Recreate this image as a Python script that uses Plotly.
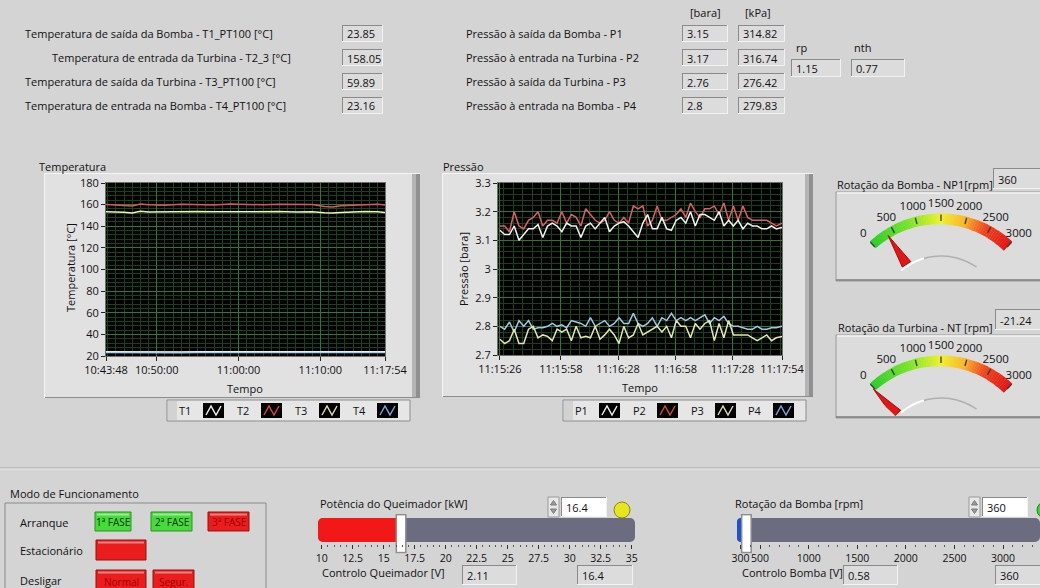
import datetime as dt
import plotly.graph_objects as go

W, H = 1040, 588
FONT = 'Open Sans'
BG = '#d4d4d4'

# ---------------- data ----------------
temp_labels = ['Temperatura de saída da Bomba - T1_PT100 [°C]',
               'Temperatura de entrada da Turbina - T2_3 [°C]',
               'Temperatura de saída da Turbina - T3_PT100 [°C]',
               'Temperatura de entrada na Bomba - T4_PT100 [°C]']
temp_values = ['23.85', '158.05', '59.89', '23.16']
press_labels = ['Pressão à saída da Bomba - P1',
                'Pressão à entrada na Turbina - P2',
                'Pressão à saída da Turbina - P3',
                'Pressão à entrada na Bomba - P4']
press_bara = ['3.15', '3.17', '2.76', '2.8']
press_kpa = ['314.82', '316.74', '276.42', '279.83']
rp_value = '1.15'
nth_value = '0.77'

DAY = '2014-06-10 '
temp_times = ['10:43:48', '10:45:00', '10:46:00', '10:47:00', '10:48:00', '10:49:00', '10:51:00',
              '10:53:00', '10:55:00', '10:57:00', '10:59:00', '11:01:00', '11:03:00', '11:05:00',
              '11:07:00', '11:09:00', '11:10:30', '11:11:30', '11:12:30', '11:14:00', '11:15:30',
              '11:17:00', '11:17:54']
T1 = [23.9, 23.8, 23.9, 23.9, 23.8, 23.9, 23.9, 23.8, 23.9, 23.9, 23.8, 23.9,
      23.9, 23.8, 23.9, 23.9, 23.8, 23.9, 23.9, 23.8, 23.9, 23.9, 23.85]
T2 = [160.2, 160.0, 159.2, 158.8, 160.5, 159.8, 159.5, 160.4, 160.0, 159.6, 160.6, 160.2,
      159.8, 160.3, 159.9, 160.1, 158.2, 157.8, 159.0, 159.6, 160.2, 160.4, 159.6]
T3 = [153.5, 153.6, 153.0, 152.3, 153.8, 153.2, 153.4, 153.5, 153.6, 153.3, 153.4, 153.7,
      153.5, 153.6, 153.2, 153.5, 152.6, 152.2, 152.8, 153.4, 153.6, 153.5, 152.8]
T4 = [23.2, 23.1, 23.2, 23.2, 23.1, 23.2, 23.2, 23.1, 23.2, 23.2, 23.1, 23.2,
      23.2, 23.1, 23.2, 23.2, 23.1, 23.2, 23.2, 23.1, 23.2, 23.2, 23.16]
temp_xticks = ['10:43:48', '10:50:00', '11:00:00', '11:10:00', '11:17:54']
temp_yticks = [20, 40, 60, 80, 100, 120, 140, 160, 180]

p_start = '11:15:26'
p_secs = [0, 2.5, 5, 7.5, 10, 12.5, 15, 17.5, 20, 22.5, 25, 27.5, 30, 32.5, 35, 37.5, 40, 42.5,
          45, 47.5, 50, 52.5, 55, 57.5, 60, 62.5, 65, 67.5, 70, 72.5, 75, 77.5, 80, 82.5, 85,
          87.5, 90, 92.5, 95, 97.5, 100, 102.5, 105, 107.5, 110, 112.5, 115, 117.5, 120, 122.5,
          125, 127.5, 130, 132.5, 135, 137.5, 140, 142.5, 145, 148]
P1 = [3.135, 3.12, 3.12, 3.15, 3.10, 3.12, 3.14, 3.14, 3.155, 3.11,
      3.15, 3.16, 3.15, 3.13, 3.16, 3.15, 3.15, 3.11, 3.15, 3.16,
      3.14, 3.16, 3.18, 3.13, 3.15, 3.16, 3.165, 3.15, 3.13, 3.11,
      3.16, 3.19, 3.14, 3.14, 3.18, 3.14, 3.135, 3.17, 3.18, 3.16,
      3.20, 3.15, 3.19, 3.19, 3.18, 3.17, 3.20, 3.15, 3.17, 3.15,
      3.17, 3.14, 3.16, 3.15, 3.15, 3.14, 3.14, 3.15, 3.14, 3.145]
P2 = [3.15, 3.15, 3.13, 3.20, 3.15, 3.14, 3.17, 3.18, 3.20, 3.15,
      3.17, 3.17, 3.16, 3.20, 3.16, 3.19, 3.18, 3.15, 3.21, 3.19,
      3.17, 3.16, 3.17, 3.20, 3.17, 3.16, 3.18, 3.16, 3.22, 3.21,
      3.22, 3.15, 3.17, 3.22, 3.17, 3.17, 3.18, 3.19, 3.21, 3.18,
      3.23, 3.20, 3.18, 3.21, 3.21, 3.22, 3.19, 3.23, 3.17, 3.22,
      3.17, 3.22, 3.18, 3.17, 3.17, 3.17, 3.17, 3.16, 3.15, 3.16]
P3 = [2.755, 2.74, 2.75, 2.79, 2.74, 2.74, 2.79, 2.80, 2.76, 2.77,
      2.765, 2.75, 2.79, 2.78, 2.79, 2.75, 2.80, 2.76, 2.765, 2.76,
      2.80, 2.755, 2.77, 2.79, 2.77, 2.74, 2.80, 2.76, 2.77, 2.81,
      2.77, 2.78, 2.79, 2.80, 2.78, 2.80, 2.76, 2.82, 2.80, 2.80,
      2.76, 2.81, 2.79, 2.81, 2.82, 2.75, 2.81, 2.76, 2.82, 2.77,
      2.77, 2.77, 2.77, 2.76, 2.75, 2.76, 2.77, 2.75, 2.76, 2.765]
P4 = [2.80, 2.79, 2.815, 2.78, 2.82, 2.80, 2.82, 2.79, 2.795, 2.795,
      2.80, 2.81, 2.80, 2.805, 2.795, 2.82, 2.815, 2.81, 2.80, 2.83,
      2.80, 2.81, 2.82, 2.80, 2.81, 2.83, 2.81, 2.81, 2.845, 2.81,
      2.80, 2.81, 2.83, 2.80, 2.83, 2.82, 2.845, 2.82, 2.83, 2.82,
      2.83, 2.82, 2.83, 2.84, 2.81, 2.83, 2.82, 2.835, 2.81, 2.80,
      2.80, 2.795, 2.79, 2.79, 2.80, 2.79, 2.79, 2.795, 2.795, 2.80]
press_xticks = ['11:15:26', '11:15:58', '11:16:28', '11:16:58', '11:17:28', '11:17:54']
press_yticks = [2.7, 2.8, 2.9, 3.0, 3.1, 3.2, 3.3]
press_yticktext = ['2.7', '2.8', '2.9', '3', '3.1', '3.2', '3.3']

gauge_ticks = [0, 500, 1000, 1500, 2000, 2500, 3000]
gauge_max = 3000
np1 = 360
np1_text = '360'
nt = -21.24
nt_text = '-21.24'

burner_kw = 16.4
burner_ticks = [10, 12.5, 15, 17.5, 20, 22.5, 25, 27.5, 30, 32.5, 35]
burner_ticktext = ['10', '12.5', '15', '17.5', '20', '22.5', '25', '27.5', '30', '32.5', '35']
burner_v = '2.11'
burner_text = '16.4'
pump_rpm = 360
pump_ticks = [300, 500, 1000, 1500, 2000, 2500, 3000]
pump_v = '0.58'
pump_text = '360'

# ---------------- helpers ----------------
def X(p):
    return p / W


def Y(p):
    return 1 - p / H


shapes = []
annotations = []


def rect(x0, y0, x1, y1, fill, line=None, lw=1, layer='below', kind='rect'):
    shapes.append(dict(type=kind, xref='paper', yref='paper', x0=X(x0), x1=X(x1), y0=Y(y1), y1=Y(y0),
                       fillcolor=fill, line=dict(color=line if line else fill, width=lw if line else 0),
                       layer=layer))


def seg(x0, y0, x1, y1, color, w=1):
    shapes.append(dict(type='line', xref='paper', yref='paper', x0=X(x0), x1=X(x1), y0=Y(y0), y1=Y(y1),
                       line=dict(color=color, width=w), layer='below'))


def path(pts, color, w=1.2, fill=None):
    d = 'M ' + ' L '.join('%.5f,%.5f' % (X(a), Y(b)) for a, b in pts)
    if fill:
        d += ' Z'
    shapes.append(dict(type='path', xref='paper', yref='paper', path=d,
                       line=dict(color=color, width=w), fillcolor=fill or 'rgba(0,0,0,0)', layer='below'))


def text(x, y, s, size=11, color='#111111', anchor='left', angle=0):
    annotations.append(dict(xref='paper', yref='paper', x=X(x), y=Y(y), text=s, showarrow=False,
                            xanchor=anchor, yanchor='middle', textangle=angle,
                            font=dict(family=FONT, size=size, color=color)))


def box(x0, y0, x1, y1, s, bg='#dcdcdc'):
    rect(x0, y0, x1, y1, bg)
    seg(x0, y0 + 0.5, x1, y0 + 0.5, '#8a8a8a')
    seg(x0 + 0.5, y0, x0 + 0.5, y1, '#8a8a8a')
    seg(x0, y1 - 0.5, x1, y1 - 0.5, '#f2f2f2')
    seg(x1 - 0.5, y0, x1 - 0.5, y1, '#f2f2f2')
    text(x0 + 3, (y0 + y1) / 2 + 0.5, s)


def frame(x0, y0, x1, y1):
    rect(x0, y0, x1, y1, '#e1e1e1')
    rect(x1 - 8, y0, x1, y1, '#b4b4b4')
    rect(x1 - 4, y0, x1, y1, '#909090')
    seg(x0, y1 - 0.5, x1, y1 - 0.5, '#8c8c8c')
    seg(x0 + 0.5, y0, x0 + 0.5, y1, '#f5f5f5')
    seg(x0, y0 + 0.5, x1, y0 + 0.5, '#f5f5f5')


def legend(x0, x1, y0, y1, names, colors):
    rect(x0, y0, x1, y1, '#e6e6e6', '#8c8c8c')
    rect(x0 + 1, y0 + 1, x0 + 10, y1 - 1, '#d2d2d2')
    for i, (n, c) in enumerate(zip(names, colors)):
        lx = x0 + 18 + 58 * i
        text(lx, (y0 + y1) / 2, n, anchor='center')
        ix = lx + 18
        rect(ix, y0 + 3, ix + 21, y1 - 3, '#000000')
        a, b = y0 + 6, y1 - 6
        path([(ix + 3, b), (ix + 8, a), (ix + 13, b), (ix + 18, a)], c, 1.4)


def button(x0, y0, x1, y1, s, fill, edge, tcol):
    rect(x0, y0, x1, y1, fill, edge)
    seg(x0 + 2, y0 + 2.5, x1 - 2, y0 + 2.5, 'rgba(255,255,255,0.45)', 2)
    if s:
        text((x0 + x1) / 2, (y0 + y1) / 2 + 0.5, s, size=10, color=tcol, anchor='center')


# ---------------- background decoration ----------------
rows_y = [(25, 42), (49, 66), (73, 90), (97, 114)]
label_x = [23, 50, 23, 23]
for (a, b), lab, lx, v in zip(rows_y, temp_labels, label_x, temp_values):
    text(lx, (a + b) / 2, lab)
    box(342, a, 383, b, v)

text(705, 13, '[bara]', anchor='center')
text(758, 13, '[kPa]', anchor='center')
for (a, b), lab, vb, vk in zip(rows_y, press_labels, press_bara, press_kpa):
    text(464, (a + b) / 2, lab)
    box(682, a, 728, b, vb)
    box(738, a, 785, b, vk)
text(794, 48, 'rp')
text(852, 48, 'nth')
box(791, 59, 841, 77, rp_value)
box(851, 59, 905, 77, nth_value)

text(37, 166, 'Temperatura')
frame(44, 173, 420, 398)
rect(106, 183, 385, 356, '#000000')
text(70, 268, 'Temperatura [°C]', angle=-90, anchor='center')
text(245, 388, 'Tempo', anchor='center')
legend(167, 410, 400, 421, ['T1', 'T2', 'T3', 'T4'], ['#f2f2f2', '#d84848', '#e0e0a8', '#7fa8d8'])

text(441, 166, 'Pressão')
frame(442, 173, 813, 397)
rect(498, 183, 782, 355, '#000000')
text(463, 269, 'Pressão [bara]', angle=-90, anchor='center')
text(640, 387, 'Tempo', anchor='center')
legend(563, 806, 400, 421, ['P1', 'P2', 'P3', 'P4'], ['#f2f2f2', '#d84848', '#e0e0a8', '#7fa8d8'])

text(835, 185, 'Rotação da Bomba - NP1[rpm]')
box(993, 168, 1042, 189, np1_text)
rect(836, 192, 1045, 281, '#dcdcdc', '#9a9a9a')
seg(837, 193, 1045, 193, '#f4f4f4', 1.5)
seg(836, 280, 1045, 280, '#7c7c7c', 1.5)
text(836, 327, 'Rotação da Turbina - NT [rpm]')
box(995, 309, 1042, 330, nt_text)
rect(836, 335, 1045, 418, '#dcdcdc', '#9a9a9a')
seg(837, 336, 1045, 336, '#f4f4f4', 1.5)
seg(836, 417, 1045, 417, '#7c7c7c', 1.5)

seg(0, 468, 1040, 468, '#a4a4a4')
seg(0, 469, 1040, 469, '#ececec')

text(8, 493, 'Modo de Funcionamento')
rect(5, 503, 266, 595, BG, '#8a8a8a')
text(18, 522, 'Arranque')
text(18, 550, 'Estacionário')
text(18, 580, 'Desligar')
button(95, 512, 131, 531, '1ª FASE', '#45dc3a', '#2f8f2a', '#103010')
button(151, 512, 192, 531, '2ª FASE', '#45dc3a', '#2f8f2a', '#103010')
button(208, 512, 249, 531, '3ª FASE', '#ea1c1c', '#9a1010', '#a00000')
button(96, 540, 146, 560, '', '#ea1c1c', '#9a1010', '#a00000')
button(96, 570, 146, 592, 'Normal', '#ea1c1c', '#9a1010', '#a00000')
button(153, 570, 194, 592, 'Segur.', '#ea1c1c', '#9a1010', '#a00000')

text(318, 503, 'Potência do Queimador [kW]')
rect(548, 497, 559, 517, '#e8e8e8', '#9a9a9a')
path([(550.5, 505), (553.5, 500.5), (556.5, 505)], '#7a7a7a', 1, fill='#9a9a9a')
path([(550.5, 509), (553.5, 513.5), (556.5, 509)], '#7a7a7a', 1, fill='#9a9a9a')
box(561, 497, 607, 517, burner_text, bg='#ffffff')
rect(614, 502, 630, 518, '#e6e61e', '#8a8a10', kind='circle')
text(320, 572, 'Controlo Queimador [V]')
box(462, 565, 517, 585, burner_v)
box(577, 565, 633, 585, burner_text)

text(733, 503, 'Rotação da Bomba [rpm]')
rect(969, 497, 980, 517, '#e8e8e8', '#9a9a9a')
path([(971.5, 505), (974.5, 500.5), (977.5, 505)], '#7a7a7a', 1, fill='#9a9a9a')
path([(971.5, 509), (974.5, 513.5), (977.5, 509)], '#7a7a7a', 1, fill='#9a9a9a')
box(982, 497, 1028, 517, pump_text, bg='#ffffff')
rect(1037, 502, 1053, 518, '#3cd23c', '#208020', kind='circle')
text(740, 572, 'Controlo Bomba [V]')
box(843, 565, 898, 585, pump_v)
box(995, 565, 1045, 585, pump_text)

# ---------------- traces ----------------
traces = []
t_x = [DAY + t for t in temp_times]
for ys, col in [(T1, '#f4f4f4'), (T2, '#e05555'), (T3, '#f2f2b4'), (T4, '#a9d2f2')]:
    traces.append(go.Scatter(x=t_x, y=ys, mode='lines', line=dict(color=col, width=1.5),
                             xaxis='x', yaxis='y', hoverinfo='skip'))

p0 = dt.datetime.strptime(DAY + p_start, '%Y-%m-%d %H:%M:%S')
p_x = [p0 + dt.timedelta(seconds=s) for s in p_secs]
for ys, col in [(P4, '#9ccaec'), (P3, '#e8e8a4'), (P2, '#e35d5d'), (P1, '#f2f2f2')]:
    traces.append(go.Scatter(x=p_x, y=ys, mode='lines', line=dict(color=col, width=1.5),
                             xaxis='x2', yaxis='y2', hoverinfo='skip'))

DEG_PER_UNIT = 86.0 / gauge_max


def th(v):
    return v * DEG_PER_UNIT


GRAD = [(0.0, (40, 205, 40)), (0.28, (120, 228, 40)), (0.5, (240, 242, 40)),
        (0.66, (250, 180, 40)), (0.8, (240, 70, 30)), (1.0, (225, 20, 20))]


def grad(f):
    for (f0, c0), (f1, c1) in zip(GRAD, GRAD[1:]):
        if f <= f1:
            t = (f - f0) / (f1 - f0)
            return 'rgb(%d,%d,%d)' % tuple(round(a + (b - a) * t) for a, b in zip(c0, c1))
    return 'rgb(%d,%d,%d)' % GRAD[-1][1]


def gauge(value, sp):
    n = 60
    step = gauge_max / n
    thetas = [th((i + 0.5) * step) for i in range(n)]
    bases = [95.5 - 3.5 * (i + 0.5) / n for i in range(n)]
    traces.append(go.Barpolar(theta=thetas, base=bases, r=[104.5 - b for b in bases],
                              width=[th(step) * 1.08] * n,
                              marker=dict(color=[grad((i + 0.5) / n) for i in range(n)], line=dict(width=0)),
                              subplot=sp, hoverinfo='skip'))
    tr, tt = [], []
    for v in gauge_ticks:
        tr += [97, 103.5, None]
        tt += [th(v), th(v), None]
    traces.append(go.Scatterpolar(r=tr, theta=tt, mode='lines', line=dict(color='#3a3a3a', width=1.3),
                                  subplot=sp, hoverinfo='skip'))
    traces.append(go.Scatterpolar(r=[114] * len(gauge_ticks), theta=[th(v) for v in gauge_ticks],
                                  text=[str(v) for v in gauge_ticks], mode='text',
                                  textfont=dict(family=FONT, size=11.5, color='#111111'),
                                  subplot=sp, hoverinfo='skip'))
    hub = [3 + 3 * k for k in range(26)]
    traces.append(go.Scatterpolar(r=[62] * 9, theta=hub[:9], mode='lines',
                                  line=dict(color='#ffffff', width=2), subplot=sp, hoverinfo='skip'))
    traces.append(go.Scatterpolar(r=[62] * 18, theta=hub[8:], mode='lines',
                                  line=dict(color='#b0b0b0', width=1.5), subplot=sp, hoverinfo='skip'))
    t = th(value)
    traces.append(go.Scatterpolar(r=[64, 98, 64, 64], theta=[t - 4.5, t, t + 4.5, t - 4.5],
                                  mode='lines', fill='toself', fillcolor='#e21616',
                                  line=dict(color='#a80c0c', width=1), subplot=sp, hoverinfo='skip'))


gauge(np1, 'polar')
gauge(nt, 'polar2')

q_rng = [9.70, 35.27]
p_rng = [263, 3380]
traces.append(go.Bar(y=[0], base=[q_rng[0]], x=[q_rng[1] - q_rng[0]], orientation='h', width=[1.0],
                     marker=dict(color='#6c6c80', cornerradius=5, line=dict(width=0)),
                     xaxis='x3', yaxis='y3', hoverinfo='skip'))
traces.append(go.Bar(y=[0], base=[q_rng[0]], x=[burner_kw - q_rng[0]], orientation='h', width=[1.0],
                     marker=dict(color='#f21818', cornerradius=5, line=dict(width=0)),
                     xaxis='x3', yaxis='y3', hoverinfo='skip'))
traces.append(go.Bar(y=[0], base=[p_rng[0]], x=[p_rng[1] - p_rng[0]], orientation='h', width=[1.0],
                     marker=dict(color='#6c6c80', cornerradius=5, line=dict(width=0)),
                     xaxis='x4', yaxis='y4', hoverinfo='skip'))
traces.append(go.Bar(y=[0], base=[p_rng[0]], x=[pump_rpm - p_rng[0]], orientation='h', width=[1.0],
                     marker=dict(color='#1f4fd6', cornerradius=5, line=dict(width=0)),
                     xaxis='x4', yaxis='y4', hoverinfo='skip'))
for xv, xa, ya in [(burner_kw, 'x3', 'y3'), (pump_rpm, 'x4', 'y4')]:
    traces.append(go.Scatter(x=[xv], y=[-0.15], mode='markers', xaxis=xa, yaxis=ya, cliponaxis=False,
                             marker=dict(symbol='line-ns', size=28, line=dict(width=11, color='#8e8e8e')),
                             hoverinfo='skip'))
    traces.append(go.Scatter(x=[xv], y=[-0.15], mode='markers', xaxis=xa, yaxis=ya, cliponaxis=False,
                             marker=dict(symbol='line-ns', size=26, line=dict(width=8, color='#ffffff')),
                             hoverinfo='skip'))

# ---------------- layout ----------------
G_MAJ = '#2c7a2c'
G_MIN = '#174417'
TF = dict(family=FONT, size=11, color='#111111')
SF = dict(family=FONT, size=10.5, color='#111111')

# gauge sector slightly wider than the 86-degree scale so end labels/needles are not clipped
SECTOR = [44, 136]
HALF_W = 120 * 0.7193  # 120 px radius * cos(44 deg)

fig = go.Figure(data=traces)
fig.update_layout(
    width=W, height=H, margin=dict(l=0, r=0, t=0, b=0, pad=0, autoexpand=False),
    paper_bgcolor=BG, plot_bgcolor='rgba(0,0,0,0)', showlegend=False, barmode='overlay',
    font=dict(family=FONT, size=11, color='#111111'),
    shapes=shapes, annotations=annotations,
    xaxis=dict(domain=[X(106), X(385)], anchor='y', type='date', automargin=False,
               range=[DAY + '10:43:48', DAY + '11:17:54'],
               tickvals=[DAY + t for t in temp_xticks], tickformat='%H:%M:%S', tickfont=TF, tickangle=0,
               ticks='outside', ticklen=4, tickcolor='#222222',
               showgrid=True, gridcolor=G_MAJ, gridwidth=1, zeroline=False,
               showline=True, linecolor='#6e6e6e', mirror=True,
               minor=dict(dtick=60000, tick0=DAY + '10:44:00', showgrid=True, gridcolor=G_MIN, ticks='')),
    yaxis=dict(domain=[Y(356), Y(183)], anchor='x', range=[20, 180], tickvals=temp_yticks, tickfont=TF,
               automargin=False, ticks='outside', ticklen=4, tickcolor='#222222',
               showgrid=True, gridcolor=G_MAJ, zeroline=False,
               showline=True, linecolor='#6e6e6e', mirror=True,
               minor=dict(dtick=4, tick0=20, showgrid=True, gridcolor=G_MIN, ticks='')),
    xaxis2=dict(domain=[X(498), X(782)], anchor='y2', type='date', automargin=False,
                range=[DAY + '11:15:25', DAY + '11:17:54'],
                tickvals=[DAY + t for t in press_xticks], tickformat='%H:%M:%S', tickfont=TF, tickangle=0,
                ticks='outside', ticklen=4, tickcolor='#222222',
                showgrid=True, gridcolor=G_MAJ, zeroline=False,
                showline=True, linecolor='#6e6e6e', mirror=True,
                minor=dict(dtick=5000, tick0=DAY + '11:15:58', showgrid=True, gridcolor=G_MIN, ticks='')),
    yaxis2=dict(domain=[Y(355), Y(183)], anchor='x2', range=[2.7, 3.3], tickvals=press_yticks,
                automargin=False, ticktext=press_yticktext, tickfont=TF, ticks='outside', ticklen=4,
                tickcolor='#222222', showgrid=True, gridcolor=G_MAJ, zeroline=False,
                showline=True, linecolor='#6e6e6e', mirror=True,
                minor=dict(dtick=0.02, tick0=2.7, showgrid=True, gridcolor=G_MIN, ticks='')),
    xaxis3=dict(domain=[X(318), X(635)], anchor='free', position=Y(544), range=q_rng, automargin=False,
                tickvals=burner_ticks, ticktext=burner_ticktext, tickfont=SF, tickangle=0,
                ticks='outside', ticklen=4, tickcolor='#333333', showgrid=False, zeroline=False,
                showline=False, minor=dict(dtick=0.5, tick0=10, ticks='outside', ticklen=2,
                                           tickcolor='#555555', showgrid=False)),
    yaxis3=dict(domain=[Y(542), Y(518)], anchor='x3', range=[-0.5, 0.5], visible=False, automargin=False),
    xaxis4=dict(domain=[X(737), 1.0], anchor='free', position=Y(544), range=p_rng, automargin=False,
                tickvals=pump_ticks, tickfont=SF, tickangle=0,
                ticks='outside', ticklen=4, tickcolor='#333333', showgrid=False, zeroline=False,
                showline=False, minor=dict(dtick=100, tick0=0, ticks='outside', ticklen=2,
                                           tickcolor='#555555', showgrid=False)),
    yaxis4=dict(domain=[Y(542), Y(518)], anchor='x4', range=[-0.5, 0.5], visible=False, automargin=False),
    polar=dict(domain=dict(x=[X(941 - HALF_W), X(941 + HALF_W)], y=[Y(318), Y(198)]),
               sector=SECTOR, bgcolor='rgba(0,0,0,0)',
               radialaxis=dict(visible=False, range=[0, 120]),
               angularaxis=dict(visible=False, rotation=133, direction='clockwise')),
    polar2=dict(domain=dict(x=[X(941 - HALF_W), X(941 + HALF_W)], y=[Y(460), Y(340)]),
                sector=SECTOR, bgcolor='rgba(0,0,0,0)',
                radialaxis=dict(visible=False, range=[0, 120]),
                angularaxis=dict(visible=False, rotation=133, direction='clockwise')),
)

fig.write_html('out.html', config={'displayModeBar': False},
               post_script="document.body.style.margin='0';document.body.style.overflow='hidden';")
